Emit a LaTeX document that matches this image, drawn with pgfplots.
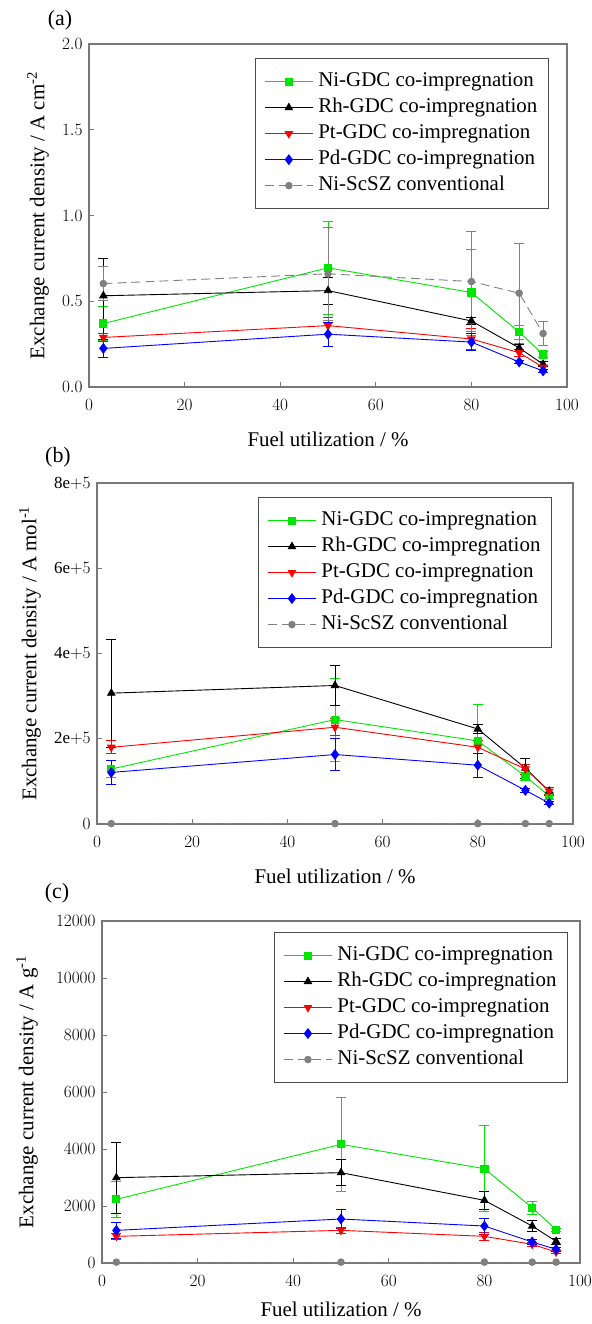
\documentclass[border=0pt]{standalone}
\usepackage{fontspec}
\setmainfont{Liberation Serif}
\usepackage{pgfplots}
\pgfplotsset{compat=1.18}
\definecolor{ngreen}{RGB}{0,230,0}
\definecolor{nred}{RGB}{255,0,0}
\definecolor{nblue}{RGB}{0,0,255}
\definecolor{ngray}{RGB}{128,128,128}
\definecolor{axgray}{RGB}{120,120,120}
\newcommand{\tickfont}{\fontsize{17}{17}\selectfont}
\newcommand{\labfont}{\fontsize{21}{25}\selectfont}
\newcommand{\legfont}{\fontsize{21}{25}\selectfont}
\pgfplotsset{
  myax/.style={
    scale only axis, anchor=south west,
    xmin=0, xmax=100, xtick={0,20,...,100},
    tick pos=left, tick align=inside, major tick length=5bp,
    axis line style={draw=axgray, line width=1.3bp},
    every tick/.style={axgray, line width=1bp},
    tick label style={font=\tickfont},
    xticklabel style={yshift=-9bp},
    yticklabel style={xshift=-3bp},
    every axis x label/.style={at={(rel axis cs:0.5,0)}, anchor=center, yshift=-52bp, font=\labfont},
    xlabel={Fuel utilization / \%},
    legend cell align=left,
    legend style={font=\legfont, draw=black!70, line width=1.2bp, anchor=north east,
      inner xsep=9bp, inner ysep=11bp, row sep=2bp, column sep=3bp,
      nodes={inner sep=2bp, text height=15bp, text depth=5bp}},
    legend image code/.code={\draw[mark repeat=2,mark phase=2,#1] plot coordinates {(0bp,0bp) (24bp,0bp) (48bp,0bp)};},
    error bars/y dir=both, error bars/y explicit,
    error bars/error bar style={solid, line width=0.8bp},
    error bars/error mark options={solid, rotate=90, mark size=5bp, line width=0.8bp},
  },
  ylab/.style={every axis y label/.style={at={([xshift=#1]rel axis cs:0,0.5)}, rotate=90, anchor=center, font=\labfont}},
  sNi/.style={ngreen, line width=0.9bp, mark=square*, mark size=3.6bp, mark options={solid, fill=ngreen}},
  sRh/.style={black, line width=0.9bp, mark=triangle*, mark size=4.2bp, mark options={solid, fill=black}},
  sPt/.style={nred, line width=0.9bp, mark=triangle*, mark size=4.2bp, mark options={solid, fill=nred, rotate=180}},
  sPd/.style={nblue, line width=0.9bp, mark=diamond*, mark size=4.8bp, mark options={solid, fill=nblue}},
  sSc/.style={ngray, line width=0.9bp, dash pattern=on 9bp off 5bp, mark=*, mark size=3.3bp, mark options={solid, fill=ngray}},
}
\begin{document}
\begin{tikzpicture}
\useasboundingbox (0,0) rectangle (592bp,-1324bp);
\node[font=\fontsize{22}{26}\selectfont] at (60bp,-20bp) {(a)};
\node[font=\fontsize{22}{26}\selectfont] at (58bp,-457bp) {(b)};
\node[font=\fontsize{22}{26}\selectfont] at (57bp,-893bp) {(c)};
% ---------- (a)
\begin{axis}[myax, ylab=-51bp, at={(89bp,-387bp)}, width=478bp, height=343bp,
  ymin=0, ymax=2, ytick={0,0.5,...,2},
  yticklabel style={/pgf/number format/fixed, /pgf/number format/fixed zerofill, /pgf/number format/precision=1},
  ylabel={Exchange current density / A cm\textsuperscript{-2}},
  legend style={at={(rel axis cs:0.9623,0.959)}}]
\addplot+[sNi] table[x=x,y=y,y error=e] {
x y e
3 0.370 0.10
50 0.695 0.27
80 0.551 0.25
90 0.320 0.04
95 0.190 0.02
};
\addplot+[sRh] table[x=x,y=y,y error=e] {
x y e
3 0.532 0.22
50 0.562 0.08
80 0.385 0.02
90 0.228 0.02
95 0.133 0.015
};
\addplot+[sPt] table[x=x,y=y,y error=e] {
x y e
3 0.289 0.025
50 0.358 0.05
80 0.280 0.06
90 0.200 0.02
95 0.115 0.01
};
\addplot+[sPd] table[x=x,y=y,y error=e] {
x y e
3 0.225 0.05
50 0.308 0.07
80 0.262 0.05
90 0.146 0.01
95 0.094 0.01
};
\addplot+[sSc] table[x=x,y=y,y error=e] {
x y e
3 0.603 0.10
50 0.660 0.27
80 0.615 0.29
90 0.547 0.29
95 0.312 0.072
};
\legend{Ni-GDC co-impregnation, Rh-GDC co-impregnation, Pt-GDC co-impregnation, Pd-GDC co-impregnation, Ni-ScSZ conventional}
\end{axis}
% ---------- (b)
\begin{axis}[myax, ylab=-67bp, at={(97bp,-824bp)}, width=476bp, height=341bp,
  ymin=0, ymax=800000, ytick={0,200000,400000,600000,800000},
  scaled y ticks=false,
  yticklabels={$0$,$\mathrm{2e}{+}5$,$\mathrm{4e}{+}5$,$\mathrm{6e}{+}5$,$\mathrm{8e}{+}5$},
  ylabel={Exchange current density / A mol\textsuperscript{-1}},
  legend style={at={(rel axis cs:0.956,0.959)}}]
\addplot+[sNi] table[x=x,y=y,y error=e] {
x y e
3 129000 20000
50 245000 97000
80 195000 86000
90 112000 10000
95 66000 8000
};
\addplot+[sRh] table[x=x,y=y,y error=e] {
x y e
3 307000 127000
50 325000 47000
80 223000 10000
90 131000 24000
95 77000 10000
};
\addplot+[sPt] table[x=x,y=y,y error=e] {
x y e
3 180000 15000
50 227000 20000
80 180000 15000
90 129000 12000
95 77000 8000
};
\addplot+[sPd] table[x=x,y=y,y error=e] {
x y e
3 121000 28000
50 163000 37000
80 138000 28000
90 79000 5000
95 49000 4000
};
\addplot+[sSc] table[x=x,y=y,y error=e] {
x y e
3 1000 500
50 1000 500
80 1000 500
90 1000 500
95 1000 500
};
\legend{Ni-GDC co-impregnation, Rh-GDC co-impregnation, Pt-GDC co-impregnation, Pd-GDC co-impregnation, Ni-ScSZ conventional}
\end{axis}
% ---------- (c)
\begin{axis}[myax, ylab=-75bp, at={(102bp,-1263bp)}, width=478bp, height=342bp,
  ymin=0, ymax=12000, ytick={0,2000,...,12000},
  scaled y ticks=false,
  yticklabel style={/pgf/number format/1000 sep={}},
  ylabel={Exchange current density / A g\textsuperscript{-1}},
  xlabel style={yshift=6bp},
  legend style={at={(rel axis cs:0.975,0.968)}}]
\addplot+[sNi] table[x=x,y=y,y error=e] {
x y e
3 2234 620
50 4164 1640
80 3310 1510
90 1942 230
95 1170 60
};
\addplot+[sRh] table[x=x,y=y,y error=e] {
x y e
3 2994 1250
50 3170 460
80 2199 330
90 1298 200
95 760 120
};
\addplot+[sPt] table[x=x,y=y,y error=e] {
x y e
3 936 100
50 1146 100
80 936 150
90 655 60
95 386 60
};
\addplot+[sPd] table[x=x,y=y,y error=e] {
x y e
3 1146 280
50 1544 340
80 1298 280
90 737 80
95 480 60
};
\addplot+[sSc] table[x=x,y=y,y error=e] {
x y e
3 30 5
50 30 5
80 30 5
90 30 5
95 30 5
};
\legend{Ni-GDC co-impregnation, Rh-GDC co-impregnation, Pt-GDC co-impregnation, Pd-GDC co-impregnation, Ni-ScSZ conventional}
\end{axis}
\end{tikzpicture}
\end{document}
